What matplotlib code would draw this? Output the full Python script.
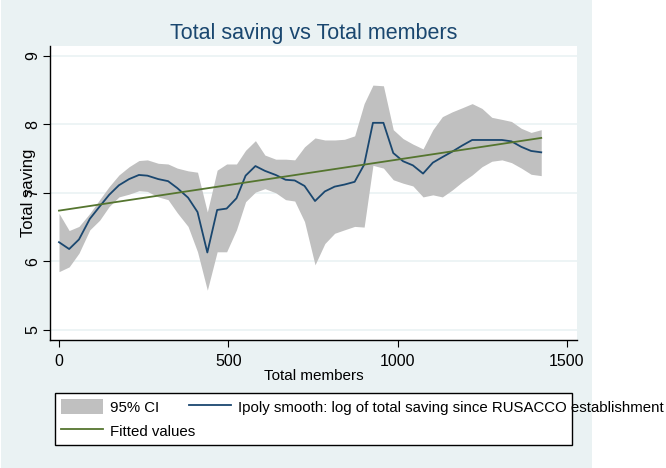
import numpy as np
import matplotlib.pyplot as plt
from matplotlib.patches import Rectangle

# lpoly grid (total members) and smoothed log total saving with 95% CI
members = [0, 30, 59, 91, 120, 148, 177, 207, 236, 261,
           293, 322, 349, 381, 409, 438, 467, 495, 524, 551,
           580, 608, 640, 669, 696, 725, 756, 785, 814, 843,
           873, 901, 927, 958, 987, 1016, 1045, 1075, 1104, 1132,
           1161, 1191, 1220, 1249, 1278, 1308, 1336, 1365, 1394, 1424]
smooth = [6.28, 6.18, 6.32, 6.62, 6.80, 6.97, 7.11, 7.20, 7.26, 7.25,
          7.20, 7.17, 7.07, 6.93, 6.72, 6.13, 6.75, 6.77, 6.92, 7.25,
          7.39, 7.32, 7.26, 7.19, 7.18, 7.10, 6.88, 7.02, 7.09, 7.12,
          7.16, 7.41, 8.02, 8.02, 7.58, 7.46, 7.40, 7.28, 7.44, 7.52,
          7.60, 7.69, 7.77, 7.77, 7.77, 7.77, 7.75, 7.67, 7.61, 7.59]
ci_upper = [6.70, 6.45, 6.51, 6.70, 6.90, 7.09, 7.26, 7.38, 7.47, 7.48,
            7.43, 7.42, 7.36, 7.32, 7.30, 6.72, 7.33, 7.42, 7.42, 7.62,
            7.76, 7.55, 7.49, 7.49, 7.48, 7.67, 7.80, 7.77, 7.77, 7.78,
            7.83, 8.30, 8.57, 8.56, 7.92, 7.79, 7.71, 7.64, 7.92, 8.11,
            8.18, 8.24, 8.30, 8.23, 8.10, 8.07, 8.04, 7.94, 7.88, 7.92]
ci_lower = [5.85, 5.92, 6.12, 6.46, 6.60, 6.80, 6.94, 6.98, 7.03, 7.02,
            6.94, 6.90, 6.71, 6.51, 6.14, 5.58, 6.14, 6.14, 6.46, 6.87,
            7.01, 7.06, 7.00, 6.90, 6.88, 6.58, 5.95, 6.26, 6.41, 6.46,
            6.51, 6.50, 7.40, 7.36, 7.19, 7.14, 7.10, 6.94, 6.97, 6.94,
            7.04, 7.16, 7.26, 7.38, 7.46, 7.48, 7.44, 7.36, 7.27, 7.25]

# linear fit (Fitted values)
fit_x = [0, 1424]
fit_y = [6.74, 7.80]

x_ticks = [0, 500, 1000, 1500]
y_ticks = [5, 6, 7, 8, 9]

plt.rcParams['font.family'] = ['Liberation Sans', 'DejaVu Sans']

bg = '#EAF2F3'
W, H = 666, 468
fig = plt.figure(figsize=(W / 100, H / 100), dpi=100)
fig.patches.append(Rectangle((1 / W, 0), 591 / W, 1, transform=fig.transFigure,
                             facecolor=bg, edgecolor='none', zorder=-10))

ax = fig.add_axes([50 / W, 1 - 340 / H, 527 / W, 294 / H])
ax.set_facecolor('white')

ci = ax.fill_between(members, ci_lower, ci_upper, color='#C0C0C0', lw=0)
sm, = ax.plot(members, smooth, color='#1A476F', lw=1.3)
ft, = ax.plot(fit_x, fit_y, color='#55752F', lw=1.3)

ax.set_xlim(-26.6, 1529.6)
ax.set_ylim(4.854, 9.14)
ax.set_xticks(x_ticks)
ax.set_yticks(y_ticks)
ax.set_yticklabels([str(v) for v in y_ticks], rotation=90, va='center')
ax.tick_params(axis='both', labelsize=11.5, length=5, width=0.8, colors='black')
ax.tick_params(axis='x', pad=5)
ax.tick_params(axis='y', pad=2)
ax.grid(axis='y', color=bg, lw=1.2)
ax.set_axisbelow(True)
for s in ['top', 'right']:
    ax.spines[s].set_visible(False)
for s in ['left', 'bottom']:
    ax.spines[s].set_linewidth(1.0)

ax.set_xlabel('Total members', fontsize=11, labelpad=0)
ax.set_ylabel('Total saving', fontsize=12)
ax.yaxis.set_label_coords(-14.5 / 527, 0.5)
ax.set_title('Total saving vs Total members', fontsize=15.5, color='#1A476F', pad=5)

fig.patches.append(Rectangle((55 / W, 1 - 445 / H), 517 / W, 52 / H,
                             transform=fig.transFigure, facecolor='white',
                             edgecolor='black', lw=1.0, zorder=-5))
fig.legend([ci, ft, sm], ['95% CI', 'Fitted values',
                          'Ipoly smooth: log of total saving since RUSACCO establishment'],
           ncol=2, loc='upper left', bbox_to_anchor=(61 / W, 1 - 399 / H),
           frameon=False, fontsize=10.8, handlelength=2.8, handleheight=1.2,
           handletextpad=0.47, columnspacing=-0.39, labelspacing=0.55,
           borderpad=0, borderaxespad=0)

fig.savefig('out.png', dpi=100, facecolor='white')
